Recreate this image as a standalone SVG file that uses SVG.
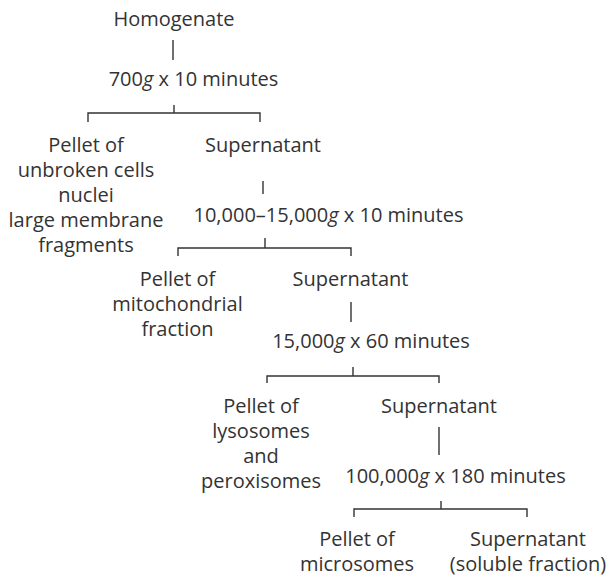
<svg xmlns="http://www.w3.org/2000/svg" width="610" height="577" viewBox="0 0 610 577">
<style>
text{font-family:"Open Sans","Noto Sans","Liberation Sans",sans-serif;font-size:20px;fill:#333;text-anchor:middle}
.ln{stroke:#333;stroke-width:1.4;fill:none}
.g{font-style:italic}
</style>
<rect width="610" height="577" fill="#fff"/>
<g id="connectors">
<path class="ln" d="M173 40V60"/>
<path class="ln" d="M174 105V113M88 122V113H260V122"/>
<path class="ln" d="M263 181V194"/>
<path class="ln" d="M265 238V248M178 256V248H351V256"/>
<path class="ln" d="M351 302V322"/>
<path class="ln" d="M353 367V376M267 383V376H439V383"/>
<path class="ln" d="M439 427V455"/>
<path class="ln" d="M441 501V509M354 517V509H527V517"/>
</g>
<g id="homogenate"><text x="174" y="25.5">Homogenate</text></g>
<g id="spin1"><text x="193.5" y="86">700<tspan class="g">g</tspan> x 10 minutes</text></g>
<g id="pellet1"><text x="86" y="152">Pellet of</text><text x="86" y="177">unbroken cells</text><text x="86" y="202">nuclei</text><text x="86" y="227">large membrane</text><text x="86" y="252">fragments</text></g>
<g id="super1"><text x="263" y="152">Supernatant</text></g>
<g id="spin2"><text x="328.5" y="222">10,000–15,000<tspan class="g">g</tspan> x 10 minutes</text></g>
<g id="pellet2"><text x="177.5" y="286">Pellet of</text><text x="177.5" y="311">mitochondrial</text><text x="177.5" y="336">fraction</text></g>
<g id="super2"><text x="350.5" y="286">Supernatant</text></g>
<g id="spin3"><text x="371" y="347.5">15,000<tspan class="g">g</tspan> x 60 minutes</text></g>
<g id="pellet3"><text x="261" y="413">Pellet of</text><text x="261" y="438">lysosomes</text><text x="261" y="463">and</text><text x="261" y="488">peroxisomes</text></g>
<g id="super3"><text x="439" y="413">Supernatant</text></g>
<g id="spin4"><text x="455.5" y="483">100,000<tspan class="g">g</tspan> x 180 minutes</text></g>
<g id="pellet4"><text x="357" y="546">Pellet of</text><text x="357" y="571">microsomes</text></g>
<g id="super4"><text x="528" y="546">Supernatant</text><text x="528" y="571">(soluble fraction)</text></g>
</svg>
